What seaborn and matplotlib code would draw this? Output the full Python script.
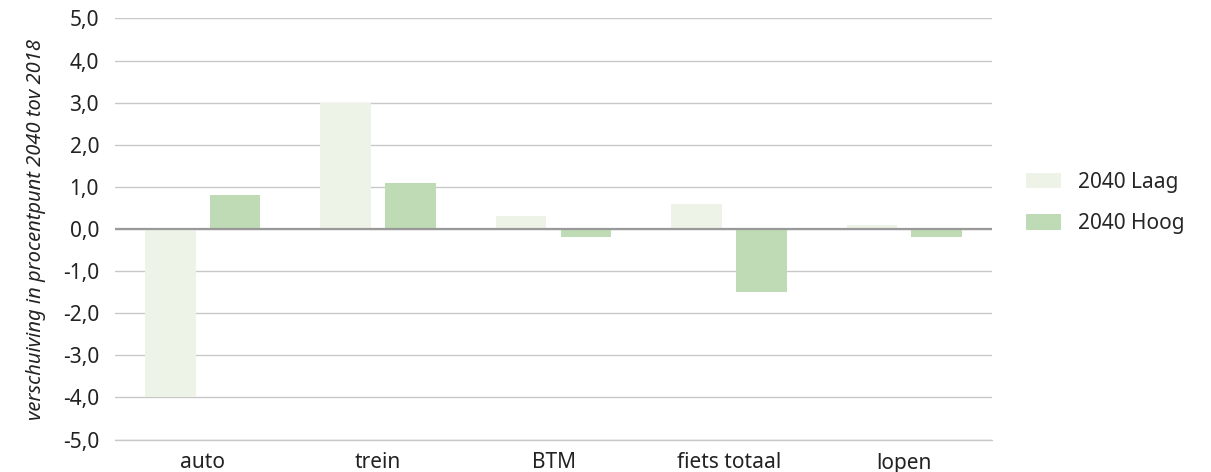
import matplotlib
matplotlib.use("Agg")
import matplotlib.pyplot as plt
import seaborn as sns
import pandas as pd
from matplotlib.patches import Patch
from matplotlib.ticker import FuncFormatter

categories = ["auto", "trein", "BTM", "fiets totaal", "lopen"]
series_names = ["2040 Laag", "2040 Hoog"]
laag = [-4.0, 3.0, 0.3, 0.6, 0.1]
hoog = [0.8, 1.1, -0.2, -1.5, -0.2]
colors = ["#EEF3E8", "#BEDBB5"]

df = pd.DataFrame({
    "cat": categories * 2,
    "serie": [series_names[0]] * len(categories) + [series_names[1]] * len(categories),
    "val": laag + hoog,
})

sns.set_style("white")
plt.rcParams["font.family"] = ["Noto Sans", "DejaVu Sans"]

fig = plt.figure(figsize=(12.11, 4.72), dpi=100)
ax = fig.add_axes([115 / 1211, 32 / 472, (992 - 115) / 1211, (440 - 18) / 472])

sns.barplot(data=df, x="cat", y="val", hue="serie", palette=colors,
            width=0.74, gap=0.22, ax=ax, legend=False, saturation=1,
            linewidth=0, edgecolor="none")

ax.set_ylim(-5.01, 5.01)
ax.set_xlim(-0.5, 4.5)
ax.set_yticks([i for i in range(-5, 6)])
ax.yaxis.set_major_formatter(FuncFormatter(lambda v, p: f"{v:.1f}".replace(".", ",")))
ax.grid(axis="y", color="#c8c8c8", linewidth=1)
ax.set_axisbelow(True)
ax.axhline(-5, color="#c8c8c8", linewidth=1, clip_on=False, zorder=0.4)
ax.axhline(0, color="#999999", linewidth=1.6, zorder=3)
for s in ax.spines.values():
    s.set_visible(False)
ax.tick_params(axis="both", length=0, labelsize=15, colors="#222222")
ax.tick_params(axis="y", pad=11.5)
ax.tick_params(axis="x", pad=9)
ax.set_xlabel("")
ax.set_ylabel("verschuiving in procentpunt 2040 tov 2018", fontsize=14.5,
              style="italic", color="#222222")
ax.yaxis.set_label_coords(-0.079, 0.5)

handles = [Patch(facecolor=c, edgecolor="none") for c in colors]
fig.legend(handles, series_names, loc="center left", bbox_to_anchor=(1007 / 1211, 0.57),
           frameon=False, fontsize=15, handlelength=1.7, handleheight=0.75,
           labelspacing=1.0, handletextpad=0.8)

fig.savefig("out.png", dpi=100)
